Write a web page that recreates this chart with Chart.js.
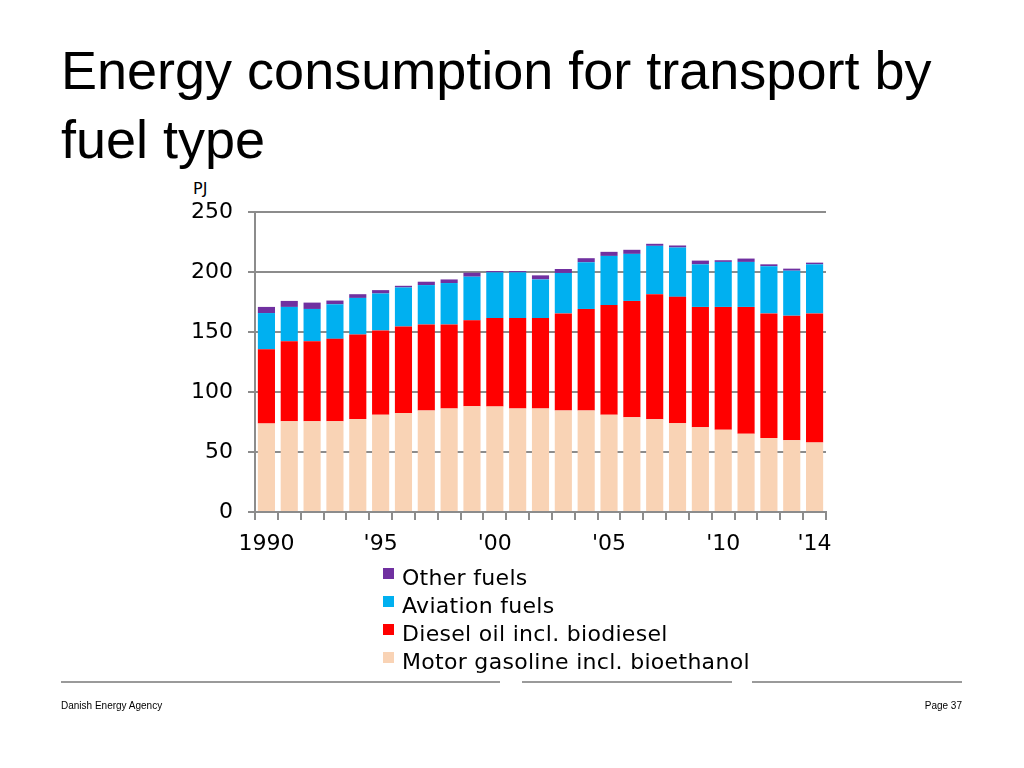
<!DOCTYPE html>
<html>
<head>
<meta charset="utf-8">
<script src="https://cdn.jsdelivr.net/npm/chart.js@4.4.1/dist/chart.umd.min.js"></script>
<style>
  html, body { margin: 0; padding: 0; background: #fff; }
  #page { position: relative; width: 1024px; height: 768px; overflow: hidden; }
  #title { position: absolute; left: 61px; top: 36px; font-family: "Liberation Sans", Arial, sans-serif;
           font-size: 54px; line-height: 69px; color: #000; margin: 0; font-weight: normal; }
  #unit { position: absolute; left: 193px; top: 179px; font-family: "DejaVu Sans", sans-serif; font-size: 16px; color: #000; }
  #chartz { position: absolute; left: 0; top: 0; }
  #legend { position: absolute; left: 383px; top: 564px; font-family: "DejaVu Sans", sans-serif; font-size: 22px;
            letter-spacing: 0.3px; color: #000; }
  #legend div { height: 28px; line-height: 28px; white-space: nowrap; }
  #legend span.sw { display: inline-block; width: 11px; height: 11px; margin-right: 8px; vertical-align: 6px; }
  .rule { position: absolute; top: 681px; height: 2px; background: #9a9a9a; }
  .foot { position: absolute; top: 700px; font-family: "Liberation Sans", Arial, sans-serif; font-size: 10px; color: #000; }
</style>
</head>
<body>
<div id="page">
  <h1 id="title">Energy consumption for transport by<br>fuel type</h1>
  <div id="unit">PJ</div>
  <canvas id="chartz" width="1024" height="768"></canvas>
  <div id="legend"></div>
  <div class="rule" style="left:61px;width:439px"></div>
  <div class="rule" style="left:522px;width:210px"></div>
  <div class="rule" style="left:752px;width:210px"></div>
  <div class="foot" style="left:61px">Danish Energy Agency</div>
  <div class="foot" style="right:62px">Page 37</div>
</div>
<script>
// years on the x axis
var years = [1990, 1991, 1992, 1993, 1994, 1995, 1996, 1997, 1998, 1999, 2000, 2001, 2002,
             2003, 2004, 2005, 2006, 2007, 2008, 2009, 2010, 2011, 2012, 2013, 2014];
// only these years get a label
var yearLabels = {1990: '1990', 1995: "'95", 2000: "'00", 2005: "'05", 2010: "'10", 2014: "'14"};
var yTicks = [0, 50, 100, 150, 200, 250];

// PJ per year
var gasoline = [73.7, 75.6, 75.6, 75.6, 77.6, 81.0, 82.6, 84.6, 86.3, 88.2, 88.0, 86.3, 86.3,
                84.6, 84.6, 81.0, 79.0, 77.3, 74.0, 70.6, 68.6, 65.3, 61.6, 59.7, 58.0];
var diesel = [61.9, 66.7, 66.7, 68.7, 70.3, 70.3, 72.0, 71.7, 70.0, 71.5, 73.6, 75.3, 75.3,
              80.9, 84.6, 91.5, 96.9, 104.2, 105.3, 100.3, 102.3, 105.6, 103.9, 103.9, 107.5];
var aviation = [30.2, 28.6, 26.9, 28.8, 30.5, 30.8, 32.5, 32.8, 34.5, 36.4, 38.1, 38.1, 32.2,
                33.7, 38.9, 40.9, 39.2, 40.3, 41.1, 35.5, 37.5, 37.5, 39.3, 37.5, 40.9];
var other = [5.1, 5.0, 5.3, 3.1, 3.1, 2.8, 1.4, 2.8, 3.0, 3.3, 1.1, 1.1, 3.4,
             3.3, 3.4, 3.4, 3.4, 1.7, 1.7, 3.1, 1.4, 2.8, 1.6, 1.7, 1.4];

var seriesNames = ['Motor gasoline incl. bioethanol', 'Diesel oil incl. biodiesel', 'Aviation fuels', 'Other fuels'];
var seriesColors = ['#F9D3B5', '#FF0000', '#00B0F0', '#7030A0'];
var seriesData = [gasoline, diesel, aviation, other];

var gridGray = '#8c8c8c';
var tickFont = { family: 'DejaVu Sans', size: 22 };

var datasets = [];
for (let i = 0; i < seriesData.length; i++) {
    datasets.push({
        label: seriesNames[i],
        data: seriesData[i],
        backgroundColor: seriesColors[i],
        borderWidth: 0,
        barPercentage: 0.75,
        categoryPercentage: 1
    });
}

var myCanvas = document.getElementById('chartz').getContext('2d');
var chart = new Chart(myCanvas, {
    type: 'bar',
    data: { labels: years, datasets: datasets },
    options: {
        responsive: false,
        animation: false,
        layout: { padding: { left: 170, top: 212, right: 198, bottom: 208 } },
        plugins: { legend: { display: false }, tooltip: { enabled: false } },
        scales: {
            x: {
                stacked: true,
                offset: true,
                grid: { display: true, drawOnChartArea: false, offset: true, tickLength: 8, color: gridGray, lineWidth: 2 },
                border: { color: gridGray, width: 2 },
                ticks: {
                    autoSkip: false, maxRotation: 0, color: '#000', font: tickFont, padding: 11,
                    callback: function (v, i) { return yearLabels[years[i]] || ''; }
                },
                afterFit: function (scale) { scale.height = 48; }
            },
            y: {
                stacked: true,
                min: 0, max: 250,
                afterBuildTicks: function (scale) { scale.ticks = yTicks.map(function (v) { return { value: v }; }); },
                grid: { color: gridGray, lineWidth: 2, tickLength: 7 },
                border: { color: gridGray, width: 2 },
                ticks: { color: '#000', font: tickFont, padding: 15 },
                afterFit: function (scale) { scale.width = 85; }
            }
        }
    }
});

// legend, top entry is the top of the stack
var legend = document.getElementById('legend');
for (let i = seriesNames.length - 1; i >= 0; i--) {
    let row = document.createElement('div');
    row.innerHTML = '<span class="sw" style="background:' + seriesColors[i] + '"></span>' + seriesNames[i];
    legend.appendChild(row);
}
</script>
</body>
</html>
